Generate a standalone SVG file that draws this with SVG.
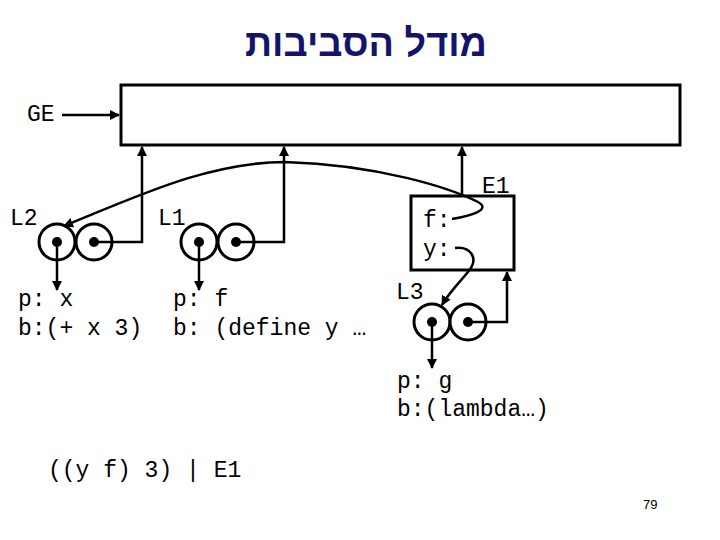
<svg xmlns="http://www.w3.org/2000/svg" width="720" height="540" viewBox="0 0 720 540">
<defs>
<marker id="ah" viewBox="0 0 10 10" refX="9" refY="5" markerWidth="4" markerHeight="4" orient="auto" markerUnits="strokeWidth">
<path d="M0,0 L10,5 L0,10 z" fill="#000"/>
</marker>
<style>
.t{font-family:"Liberation Mono","Courier New",monospace;font-size:23px;fill:#000}
.c{fill:#fff;stroke:#000;stroke-width:3}
.d{fill:#000}
.ln{fill:none;stroke:#000;stroke-width:2.5}
</style>
</defs>
<rect width="720" height="540" fill="#fff"/>
<text x="366" y="56" text-anchor="middle" direction="rtl" font-family="'Liberation Sans','DejaVu Sans',sans-serif" font-weight="bold" font-size="38" fill="#14146e" textLength="242" lengthAdjust="spacingAndGlyphs">מודל הסביבות</text>

<g id="GE">
<rect x="121" y="85" width="559" height="60" fill="#fff" stroke="#000" stroke-width="3"/>
<text class="t" x="27" y="121" font-size="20">GE</text>
</g>

<g id="L2">
<text class="t" x="10" y="225">L2</text>
<circle class="c" cx="57" cy="242" r="18"/>
<circle class="c" cx="94" cy="242" r="18"/>
<circle class="d" cx="57" cy="242" r="5"/>
<circle class="d" cx="94" cy="242" r="5"/>
<text class="t" x="18" y="306">p: x</text>
<text class="t" x="18" y="335">b:(+ x 3)</text>
</g>

<g id="L1">
<text class="t" x="158" y="225">L1</text>
<circle class="c" cx="199" cy="242" r="18"/>
<circle class="c" cx="236" cy="242" r="18"/>
<circle class="d" cx="199" cy="242" r="5"/>
<circle class="d" cx="236" cy="242" r="5"/>
<text class="t" x="173" y="306">p: f</text>
<text class="t" x="173" y="335">b: (define y …</text>
</g>

<g id="E1">
<rect x="411" y="196" width="103" height="74" fill="#fff" stroke="#000" stroke-width="3"/>
<text class="t" x="482" y="193">E1</text>
<text class="t" x="423" y="227">f:</text>
<text class="t" x="423" y="256">y:</text>
</g>

<g id="L3">
<text class="t" x="396" y="299">L3</text>
<circle class="c" cx="432" cy="322" r="18"/>
<circle class="c" cx="468" cy="322" r="18"/>
<circle class="d" cx="432" cy="322" r="5"/>
<circle class="d" cx="468" cy="322" r="5"/>
<text class="t" x="397" y="388">p: g</text>
<text class="t" x="397" y="416">b:(lambda…)</text>
</g>

<text class="t" x="48" y="477">((y f) 3) | E1</text>
<text x="643" y="509" font-family="'Liberation Sans',sans-serif" font-size="13" fill="#000">79</text>

<g id="connectors">
<path class="ln" d="M62,115 H119" marker-end="url(#ah)"/>
<path class="ln" d="M94,242 H142 V147" marker-end="url(#ah)"/>
<path class="ln" d="M57,242 V290" marker-end="url(#ah)"/>
<path class="ln" d="M236,242 H284 V147" marker-end="url(#ah)"/>
<path class="ln" d="M199,242 V290" marker-end="url(#ah)"/>
<path class="ln" d="M462,196 V147" marker-end="url(#ah)"/>
<path class="ln" d="M468,322 H507 V272" marker-end="url(#ah)"/>
<path class="ln" d="M432,322 V368" marker-end="url(#ah)"/>
<path class="ln" d="M452,219 C470,216 492,210 478,202 C450,188 380,165 285,162 C210,162 140,195 64,226" marker-end="url(#ah)"/>
<path class="ln" d="M455,248 C470,246 480,258 468,272 C458,284 448,294 442,305" marker-end="url(#ah)"/>
</g>
</svg>
